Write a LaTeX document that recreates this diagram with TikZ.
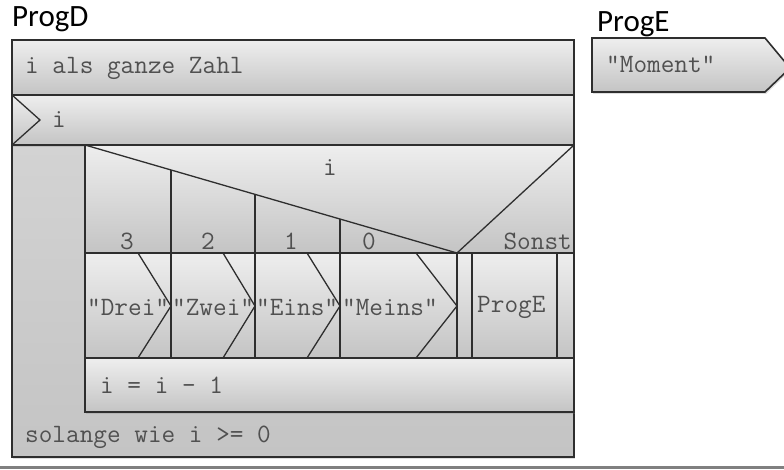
\documentclass[tikz,border=0pt]{standalone}
\usepackage{fontspec}
\newfontfamily\titlefont{Carlito}
\usepackage{tikz}
\usetikzlibrary{shadows}

\definecolor{nsline}{HTML}{2E2E2E}
\definecolor{nstop}{HTML}{EEEEEE}
\definecolor{nsbottom}{HTML}{C4C4C4}
\definecolor{nsband}{HTML}{D8D8D8}
\definecolor{nstext}{HTML}{505050}

\tikzset{
  nsbox/.style={draw=nsline, line width=1.6pt, top color=nstop, bottom color=nsbottom,
    drop shadow={opacity=0.25, shadow xshift=1pt, shadow yshift=-2pt}},
  divider/.style={draw=nsline, line width=1.3pt},
  nstext/.style={font=\ttfamily\fontsize{26.5}{26.5}\selectfont, text=nstext, inner sep=0pt},
  titletext/.style={font=\titlefont\fontsize{31}{31}\selectfont, text=black, inner sep=0pt}
}

\begin{document}
\begin{tikzpicture}[x=1pt, y=-1pt]
        \clip (0,0) rectangle (784,470);

        % ProgD
        \node[titletext, anchor=base west] (progd) at (12,27) {ProgD};
        \draw[nsbox, top color=nsband] (12,40) rectangle (574,457);
        \draw[nsbox] (12,40) rectangle (574,95);
        \node[nstext, anchor=west] (decl) at (25,68) {i als ganze Zahl};
        \draw[nsbox] (12,95) rectangle (574,145);
        \draw[divider] (12,95) -- (40,120) -- (12,145);
        \node[nstext, anchor=west] (input) at (52,120) {i};

        % Fallauswahl
        \draw[nsbox] (85,145) rectangle (574,253);
        \draw[divider] (85,145) -- (457,253) -- (574,145);
        \foreach \x in {171,255,340}
            \draw[divider] (\x,{145+(\x-85)/372*108}) -- (\x,253);
        \node[nstext] (sel) at (330,168) {i};
        \node[nstext, anchor=base] (case3) at (127,250) {3};
        \node[nstext, anchor=base] (case2) at (208,250) {2};
        \node[nstext, anchor=base] (case1) at (291,250) {1};
        \node[nstext, anchor=base] (case0) at (369,250) {0};
        \node[nstext, anchor=base east] (sonst) at (572,250) {Sonst};

        % Zweige
        \foreach \l/\r/\d in {85/171/33,171/255/32,255/340/33,340/457/41} {
            \draw[nsbox] (\l,253) rectangle (\r,358);
            \draw[divider] ({\r-\d},253) -- (\r,306) -- ({\r-\d},358);
        }
        \node[nstext, anchor=west] (drei) at (87,307) {"Drei"};
        \node[nstext, anchor=west] (zwei) at (172,307) {"Zwei"};
        \node[nstext, anchor=west] (eins) at (256,307) {"Eins"};
        \node[nstext, anchor=west] (meins) at (342,307) {"Meins"};
        \draw[nsbox] (457,253) rectangle (574,358);
        \draw[divider] (472,253) -- (472,358);
        \draw[divider] (557,253) -- (557,358);
        \node[nstext, anchor=west] (call) at (477,307) {ProgE};

        \draw[nsbox] (85,358) rectangle (574,412);
        \node[nstext, anchor=west] (step) at (100,385) {i = i - 1};
        \node[nstext, anchor=west] (cond) at (25,437) {solange wie i >= 0};

        % ProgE
        \node[titletext, anchor=base west] (proge) at (597,32) {ProgE};
        \draw[nsbox] (592,38) -- (765,38) -- (790,68) -- (765,92) -- (592,92) -- cycle;
        \node[nstext, anchor=west] (moment) at (606,64) {"Moment"};

        \draw[line width=3pt, gray] (0,467) -- (784,467);
\end{tikzpicture}
\end{document}
